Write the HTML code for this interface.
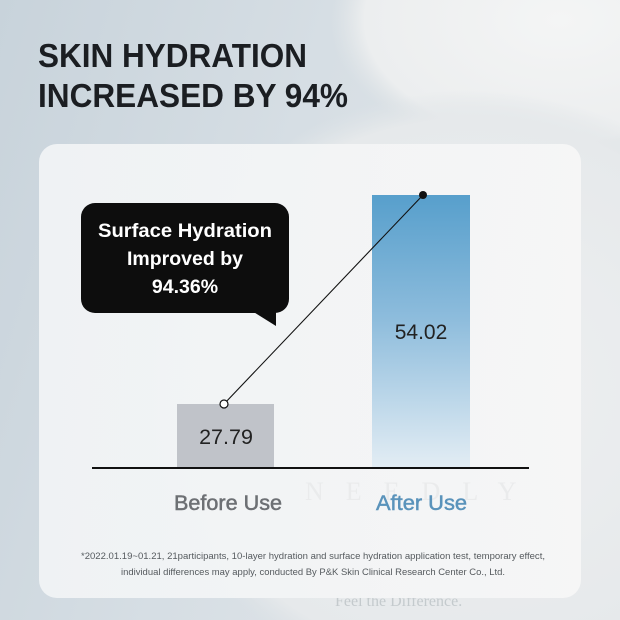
<!DOCTYPE html>
<html><head><meta charset="utf-8"><style>
html,body{margin:0;padding:0;width:620px;height:620px;overflow:hidden;background:#d3dce2}
svg{display:block}
</style></head><body>
<svg width="620" height="620" viewBox="0 0 620 620" xmlns="http://www.w3.org/2000/svg" style="overflow:hidden">
<defs>
<linearGradient id="bg" x1="0" y1="0" x2="1" y2="0.3">
<stop offset="0" stop-color="#c8d3db"/>
<stop offset="0.5" stop-color="#d6dee4"/>
<stop offset="1" stop-color="#e2e6e9"/>
</linearGradient>
<radialGradient id="lid" gradientUnits="userSpaceOnUse" cx="560" cy="20" r="230" gradientTransform="translate(560 20) scale(1 0.61) translate(-560 -20)">
<stop offset="0" stop-color="#f4f5f5"/>
<stop offset="0.85" stop-color="#eceeef"/>
<stop offset="1" stop-color="#e2e6e8" stop-opacity="0"/>
</radialGradient>
<radialGradient id="jar" gradientUnits="userSpaceOnUse" cx="470" cy="390" r="330" gradientTransform="translate(470 390) scale(1 0.91) translate(-470 -390)">
<stop offset="0" stop-color="#eef0f1"/>
<stop offset="0.9" stop-color="#e6e9eb"/>
<stop offset="1" stop-color="#dfe4e7" stop-opacity="0"/>
</radialGradient>
<linearGradient id="card" x1="0" y1="0" x2="1" y2="0">
<stop offset="0" stop-color="#f0f3f5"/>
<stop offset="1" stop-color="#f6f6f6"/>
</linearGradient>
<linearGradient id="after" x1="0" y1="0" x2="0" y2="1">
<stop offset="0" stop-color="#579fcc"/>
<stop offset="0.45" stop-color="#8dbcdc"/>
<stop offset="1" stop-color="#e3edf4"/>
</linearGradient>
</defs>
<rect width="620" height="620" fill="url(#bg)"/>
<rect width="620" height="620" fill="url(#lid)"/>
<rect width="620" height="620" fill="url(#jar)"/>
<text x="335" y="606" font-family="Liberation Serif, serif" font-size="16" fill="#c4cacd">Feel the Difference.</text>

<!-- Title -->
<text x="38" y="67" font-family="Liberation Sans, sans-serif" font-weight="bold" font-size="33" fill="#1b1e22" textLength="269" lengthAdjust="spacingAndGlyphs">SKIN HYDRATION</text>
<text x="38" y="107" font-family="Liberation Sans, sans-serif" font-weight="bold" font-size="33" fill="#1b1e22" textLength="310" lengthAdjust="spacingAndGlyphs">INCREASED BY 94%</text>

<!-- Card -->
<rect x="39" y="144" width="542" height="454" rx="18" ry="18" fill="url(#card)" opacity="0.97"/>

<!-- faint watermark -->
<text x="305" y="500" font-family="Liberation Serif, serif" font-size="26" fill="#eaebec" letter-spacing="22">NEEDLY</text>

<!-- Bars -->
<rect x="177" y="404" width="97" height="64" fill="#c0c3c9"/>
<rect x="372" y="195" width="98" height="273" fill="url(#after)"/>

<!-- baseline -->
<line x1="92" y1="468" x2="529" y2="468" stroke="#111" stroke-width="2"/>

<!-- connecting line -->
<line x1="224" y1="404" x2="423" y2="195" stroke="#111" stroke-width="1.1"/>
<circle cx="224" cy="404" r="4" fill="#fff" stroke="#111" stroke-width="1.2"/>
<circle cx="423" cy="195" r="4" fill="#111"/>

<!-- values -->
<text x="226" y="444" text-anchor="middle" font-family="Liberation Sans, sans-serif" font-size="21.5" fill="#222">27.79</text>
<text x="421" y="339" text-anchor="middle" font-family="Liberation Sans, sans-serif" font-size="21" fill="#222">54.02</text>

<!-- labels -->
<text x="174" y="510" font-family="Liberation Sans, sans-serif" font-size="21" fill="#6d7074" stroke="#6d7074" stroke-width="0.5" textLength="108" lengthAdjust="spacingAndGlyphs">Before Use</text>
<text x="376" y="510" font-family="Liberation Sans, sans-serif" font-size="21" fill="#5a93bb" stroke="#5a93bb" stroke-width="0.5" textLength="91" lengthAdjust="spacingAndGlyphs">After Use</text>

<!-- Bubble -->
<rect x="81" y="203" width="208" height="110" rx="14" ry="14" fill="#0d0d0d"/>
<polygon points="252,311 276,311 276,326" fill="#0d0d0d"/>
<text x="185" y="237" text-anchor="middle" font-family="Liberation Sans, sans-serif" font-weight="bold" font-size="19.5" fill="#fff" textLength="174" lengthAdjust="spacingAndGlyphs">Surface Hydration</text>
<text x="185" y="265" text-anchor="middle" font-family="Liberation Sans, sans-serif" font-weight="bold" font-size="19.5" fill="#fff">Improved by</text>
<text x="185" y="293" text-anchor="middle" font-family="Liberation Sans, sans-serif" font-weight="bold" font-size="19.5" fill="#fff">94.36%</text>

<!-- Footer -->
<text x="81" y="559" font-family="Liberation Sans, sans-serif" font-size="9.3" fill="#555a5e" textLength="464" lengthAdjust="spacingAndGlyphs">*2022.01.19~01.21, 21participants, 10-layer hydration and surface hydration application test, temporary effect,</text>
<text x="121" y="575" font-family="Liberation Sans, sans-serif" font-size="9.3" fill="#555a5e" textLength="384" lengthAdjust="spacingAndGlyphs">individual differences may apply, conducted By P&amp;K Skin Clinical Research Center Co., Ltd.</text>
</svg>
</body></html>
